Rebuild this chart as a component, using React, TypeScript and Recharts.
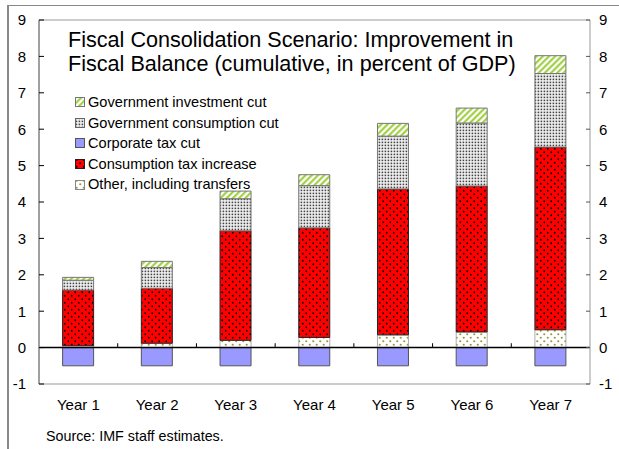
import React from 'react';
import { BarChart, Bar, XAxis, YAxis, ReferenceLine, Legend } from 'recharts';

const categories = ['Year 1', 'Year 2', 'Year 3', 'Year 4', 'Year 5', 'Year 6', 'Year 7'];
const otherTransfers = [0.05, 0.12, 0.2, 0.28, 0.35, 0.43, 0.49];
const consumptionTax = [1.53, 1.51, 3.01, 3.01, 4.01, 4.01, 5.02];
const govConsumption = [0.27, 0.57, 0.88, 1.16, 1.45, 1.73, 2.02];
const govInvestment = [0.08, 0.17, 0.21, 0.3, 0.35, 0.41, 0.49];
const corporateTax = [-0.5, -0.5, -0.5, -0.5, -0.5, -0.5, -0.5];
const yTicks = [-1, 0, 1, 2, 3, 4, 5, 6, 7, 8, 9];
const titleLines = [
  'Fiscal Consolidation Scenario: Improvement in',
  'Fiscal Balance (cumulative, in percent of GDP)',
];
const legendItems = [
  { label: 'Government investment cut', fill: 'url(#pGreen)', stroke: '#777' },
  { label: 'Government consumption cut', fill: 'url(#pGray)', stroke: '#666' },
  { label: 'Corporate tax cut', fill: '#9999ff', stroke: '#555' },
  { label: 'Consumption tax increase', fill: 'url(#pRed)', stroke: '#222' },
  { label: 'Other, including transfers', fill: 'url(#pOlive)', stroke: '#888' },
];
const sourceText = 'Source: IMF staff estimates.';

const data = categories.map((c, i) => ({
  cat: c,
  other: otherTransfers[i],
  ctax: consumptionTax[i],
  gcons: govConsumption[i],
  ginv: govInvestment[i],
  corp: corporateTax[i],
}));

const FONT = '"Liberation Sans", Arial, sans-serif';

const LeftTick = (props: any) => {
  const { x, y, payload } = props;
  return (
    <g>
      <line x1={x + 13} x2={x + 18} y1={y} y2={y} stroke="#000" strokeWidth={1} />
      <text x={x} y={y} dy="0.36em" textAnchor="end" fontSize={15} fontFamily={FONT} fill="#000">
        {payload.value}
      </text>
    </g>
  );
};

const RightTick = (props: any) => {
  const { x, y, payload } = props;
  return (
    <g>
      <line x1={x - 13} x2={x - 9} y1={y} y2={y} stroke="#555" strokeWidth={1} />
      <text x={x} y={y} dy="0.36em" textAnchor="start" fontSize={15} fontFamily={FONT} fill="#000">
        {payload.value}
      </text>
    </g>
  );
};

const LegendContent = () => (
  <div style={{ fontFamily: FONT, fontSize: 14.6, color: '#000', lineHeight: '20.6px' }}>
    {legendItems.map((it) => (
      <div key={it.label} style={{ display: 'flex', alignItems: 'center', whiteSpace: 'nowrap' }}>
        <svg width={12} height={12} style={{ marginRight: 1 }}>
          <rect x={0.5} y={1.5} width={9} height={9} fill={it.fill} stroke={it.stroke} strokeWidth={1} />
        </svg>
        <span>{it.label}</span>
      </div>
    ))}
  </div>
);

export default function App() {
  return (
    <div style={{ position: 'absolute', left: 0, top: 0, width: 619, height: 449, background: '#fff', overflow: 'hidden' }}>
      <div style={{ position: 'absolute', left: 7, top: 5, width: 620, height: 450, borderTop: '1.5px solid #888', borderLeft: '2px solid #888' }} />
      <BarChart
        width={619}
        height={449}
        data={data}
        stackOffset="sign"
        barCategoryGap="30%"
        margin={{ top: 20, right: 0, bottom: 0, left: 0 }}
      >
        <defs>
          <pattern id="pGreen" width={4.4} height={4.4} patternUnits="userSpaceOnUse" patternTransform="rotate(45)">
            <rect width={4.4} height={4.4} fill="#fff" />
            <line x1={1.2} y1={0} x2={1.2} y2={4.4} stroke="#99cc33" strokeWidth={2} />
          </pattern>
          <pattern id="pGray" width={3} height={3} patternUnits="userSpaceOnUse">
            <rect width={3} height={3} fill="#f4f4f4" />
            <rect x={0.6} y={0.6} width={1.6} height={1.6} fill="#444" />
          </pattern>
          <pattern id="pRed" width={7} height={7} patternUnits="userSpaceOnUse">
            <rect width={7} height={7} fill="#ff0000" />
            <circle cx={1.75} cy={1.75} r={0.9} fill="#000" />
            <circle cx={5.25} cy={5.25} r={0.9} fill="#000" />
          </pattern>
          <pattern id="pOlive" width={7} height={7} patternUnits="userSpaceOnUse">
            <rect width={7} height={7} fill="#fff" />
            <circle cx={1.75} cy={1.75} r={1.1} fill="#999944" />
            <circle cx={5.25} cy={5.25} r={1.1} fill="#999944" />
          </pattern>
        </defs>
        <XAxis
          dataKey="cat"
          xAxisId="x"
          height={65}
          axisLine={false}
          tickLine={false}
          tickSize={0}
          tickMargin={15}
          interval={0}
          tick={{ fill: '#000', fontSize: 15, fontFamily: FONT }}
        />
        <YAxis
          yAxisId="left"
          width={39}
          domain={[-1, 9]}
          ticks={yTicks}
          interval={0}
          axisLine={{ stroke: '#808080', strokeWidth: 1.5 }}
          tickLine={false}
          tickSize={0}
          tickMargin={13}
          tick={<LeftTick />}
          allowDataOverflow
        />
        <YAxis
          yAxisId="right"
          orientation="right"
          width={29}
          domain={[-1, 9]}
          ticks={yTicks}
          interval={0}
          axisLine={{ stroke: '#999', strokeWidth: 1 }}
          tickLine={false}
          tickSize={0}
          tickMargin={9}
          tick={<RightTick />}
          allowDataOverflow
        />
        <ReferenceLine yAxisId="left" xAxisId="x" y={9} stroke="#999" strokeWidth={1} />
        <ReferenceLine yAxisId="left" xAxisId="x" y={-1} stroke="#999" strokeWidth={1} />
        <Bar dataKey="corp" xAxisId="x" yAxisId="left" stackId="s" fill="#9999ff" stroke="#555" strokeWidth={1} isAnimationActive={false} />
        <Bar dataKey="other" xAxisId="x" yAxisId="left" stackId="s" fill="url(#pOlive)" stroke="#999" strokeWidth={0.8} isAnimationActive={false} />
        <Bar dataKey="ctax" xAxisId="x" yAxisId="left" stackId="s" fill="url(#pRed)" stroke="#222" strokeWidth={1} isAnimationActive={false} />
        <Bar dataKey="gcons" xAxisId="x" yAxisId="left" stackId="s" fill="url(#pGray)" stroke="#777" strokeWidth={1} isAnimationActive={false} />
        <Bar dataKey="ginv" xAxisId="x" yAxisId="left" stackId="s" fill="url(#pGreen)" stroke="#777" strokeWidth={1} isAnimationActive={false} />
        <ReferenceLine yAxisId="left" xAxisId="x" y={0} stroke="#000" strokeWidth={1.5} />
        {categories.slice(1).map((c) => (
          <ReferenceLine
            key={c}
            yAxisId="left"
            xAxisId="x"
            position="start"
            segment={[{ x: c, y: 0 }, { x: c, y: 0.12 }]}
            stroke="#000"
            strokeWidth={1}
          />
        ))}
        <Legend
          layout="vertical"
          align="center"
          verticalAlign="middle"
          content={<LegendContent />}
          wrapperStyle={{ left: 75, top: 92, width: 260, height: 105 }}
        />
      </BarChart>
      <div style={{ position: 'absolute', left: 68, top: 28, fontFamily: FONT, fontSize: 21.6, lineHeight: '24px', color: '#000', whiteSpace: 'nowrap' }}>
        {titleLines.map((t) => (
          <div key={t}>{t}</div>
        ))}
      </div>
      <div style={{ position: 'absolute', left: 46, top: 428, fontFamily: FONT, fontSize: 14.3, color: '#000', whiteSpace: 'nowrap' }}>
        {sourceText}
      </div>
    </div>
  );
}
